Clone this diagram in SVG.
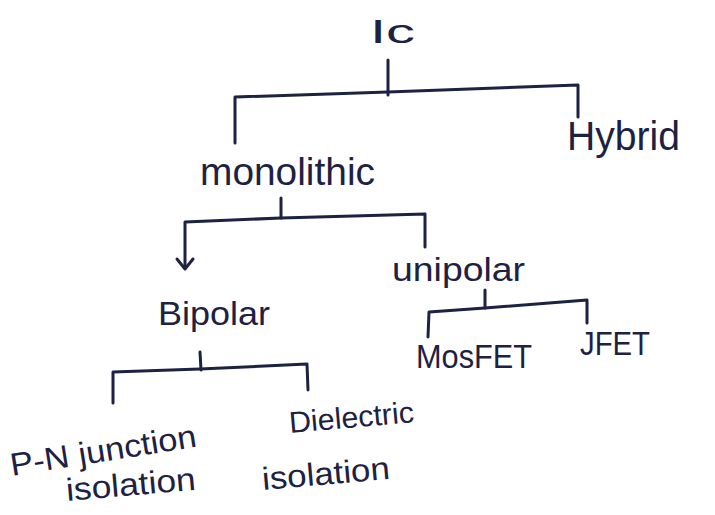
<svg xmlns="http://www.w3.org/2000/svg" width="715" height="515" viewBox="0 0 715 515">
<style>
.ink{fill:none;stroke:#1d2142;stroke-width:3;stroke-linecap:round;stroke-linejoin:round}
.t{fill:#1d2142;font-family:"Liberation Sans","DejaVu Sans",sans-serif}
</style>
<rect width="715" height="515" fill="#ffffff"/>
<g id="connectors">
  <polyline class="ink" points="388,60 388,95"/>
  <polyline class="ink" points="235,143 235,97 388,92 578,85 578,117"/>
  <polyline class="ink" points="281,198 281,218"/>
  <polyline class="ink" points="185,268 185,222 281,218 425,214 425,247"/>
  <polyline class="ink" points="177,259 185,269 193,259"/>
  <polyline class="ink" points="485,290 485,308"/>
  <polyline class="ink" points="428,337 429,312 485,308 587,300 587,323"/>
  <polyline class="ink" points="200,352 201,370"/>
  <polyline class="ink" points="113,403 113,372 200,369 307,364 308,390"/>
</g>
<g id="ic"><text class="t" x="370" y="43" font-size="34" textLength="45" lengthAdjust="spacingAndGlyphs">Ic</text></g>
<g id="hybrid"><text class="t" x="567" y="150" font-size="40" textLength="113" lengthAdjust="spacingAndGlyphs">Hybrid</text></g>
<g id="monolithic"><text class="t" x="200" y="185" font-size="38" textLength="175" lengthAdjust="spacingAndGlyphs">monolithic</text></g>
<g id="unipolar"><text class="t" x="392" y="281" font-size="34" textLength="133" lengthAdjust="spacingAndGlyphs">unipolar</text></g>
<g id="bipolar"><text class="t" x="158" y="325" font-size="34" textLength="112" lengthAdjust="spacingAndGlyphs">Bipolar</text></g>
<g id="mosfet"><text class="t" x="416" y="368" font-size="34" textLength="116" lengthAdjust="spacingAndGlyphs">MosFET</text></g>
<g id="jfet"><text class="t" x="580" y="355" font-size="34" textLength="70" lengthAdjust="spacingAndGlyphs">JFET</text></g>
<g id="pn-junction">
  <text class="t" x="12" y="476" font-size="32" textLength="188" lengthAdjust="spacingAndGlyphs" transform="rotate(-9 12 476)">P-N junction</text>
  <text class="t" x="67" y="501" font-size="32" textLength="130" lengthAdjust="spacingAndGlyphs" transform="rotate(-5 67 501)">isolation</text>
</g>
<g id="dielectric">
  <text class="t" x="290" y="433" font-size="30" textLength="125" lengthAdjust="spacingAndGlyphs" transform="rotate(-5 290 433)">Dielectric</text>
  <text class="t" x="263" y="490" font-size="32" textLength="128" lengthAdjust="spacingAndGlyphs" transform="rotate(-5 263 490)">isolation</text>
</g>
</svg>
